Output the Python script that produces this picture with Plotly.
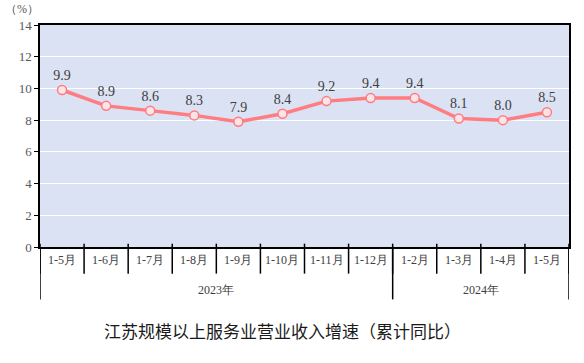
import plotly.graph_objects as go

months = ["1-5月", "1-6月", "1-7月", "1-8月", "1-9月", "1-10月", "1-11月", "1-12月",
          "1-2月", "1-3月", "1-4月", "1-5月"]
years = ["2023年"] * 8 + ["2024年"] * 4
values = [9.9, 8.9, 8.6, 8.3, 7.9, 8.4, 9.2, 9.4, 9.4, 8.1, 8.0, 8.5]
y_ticks = [0, 2, 4, 6, 8, 10, 12, 14]
title_text = "江苏规模以上服务业营业收入增速（累计同比）"
unit_text = "（%）"

FONT = "Liberation Serif"
n = len(values)
xs = list(range(n))

fig = go.Figure()
fig.add_trace(go.Scatter(
    x=xs, y=values, mode="lines+markers+text",
    text=[f"{v:.1f}" for v in values], textposition="top center",
    textfont=dict(family=FONT, size=14, color="#404040"),
    line=dict(color="#FF7C80", width=3.5),
    marker=dict(size=9, color="#FCE4E8", line=dict(color="#FF7C80", width=1.5)),
    cliponaxis=False, hoverinfo="skip", showlegend=False,
))

shapes = []
for i in range(n + 1):
    xb = i - 0.5
    shapes.append(dict(type="line", xref="x", yref="paper", x0=xb, x1=xb,
                       y0=0.015, y1=-0.12, line=dict(color="black", width=1.5)))
group_bounds = [0]
for i in range(1, n):
    if years[i] != years[i - 1]:
        group_bounds.append(i)
group_bounds.append(n)
for b in group_bounds:
    shapes.append(dict(type="line", xref="x", yref="paper", x0=b - 0.5, x1=b - 0.5,
                       y0=0, y1=-0.236, line=dict(color="black", width=1.5)))

annotations = []
for i, m in enumerate(months):
    annotations.append(dict(x=i, y=-0.06, xref="x", yref="paper", text=m,
                            showarrow=False, font=dict(family=FONT, size=12, color="#404040"),
                            xanchor="center", yanchor="middle"))
for a, b in zip(group_bounds[:-1], group_bounds[1:]):
    annotations.append(dict(x=(a + b - 1) / 2, y=-0.195, xref="x", yref="paper",
                            text=years[a], showarrow=False,
                            font=dict(family=FONT, size=12, color="#404040"),
                            xanchor="center", yanchor="middle"))
annotations.append(dict(x=-0.034, y=1.036, xref="paper", yref="paper", text=unit_text,
                        showarrow=False, borderpad=0,
                        font=dict(family=FONT, size=12, color="#595959"),
                        xanchor="center", yanchor="bottom"))
annotations.append(dict(x=0.458, y=-0.374, xref="paper", yref="paper", text=title_text,
                        showarrow=False, font=dict(family="Noto Sans CJK SC", size=17, color="#1a1a1a"),
                        xanchor="center", yanchor="middle"))

fig.update_layout(
    width=584, height=363,
    margin=dict(l=40, r=15, t=25, b=116, autoexpand=False),
    paper_bgcolor="white", plot_bgcolor="#DAE2F3",
    shapes=shapes, annotations=annotations,
    xaxis=dict(range=[-0.5, n - 0.5], showticklabels=False, ticks="",
               showgrid=False, zeroline=False, showline=True, linecolor="black",
               linewidth=1.5, mirror=True, fixedrange=True),
    yaxis=dict(range=[0, 14], tickvals=y_ticks, ticks="outside", ticklen=4,
               tickcolor="black", showgrid=True, gridcolor="white", gridwidth=1.2,
               zeroline=False, showline=True, linecolor="black", linewidth=1.5,
               mirror=True, tickfont=dict(family=FONT, size=13, color="#595959"),
               automargin=False, fixedrange=True),
)

fig.write_html("out.html", config={"displayModeBar": False},
               post_script="document.body.style.margin='0';document.body.style.overflow='hidden';")
